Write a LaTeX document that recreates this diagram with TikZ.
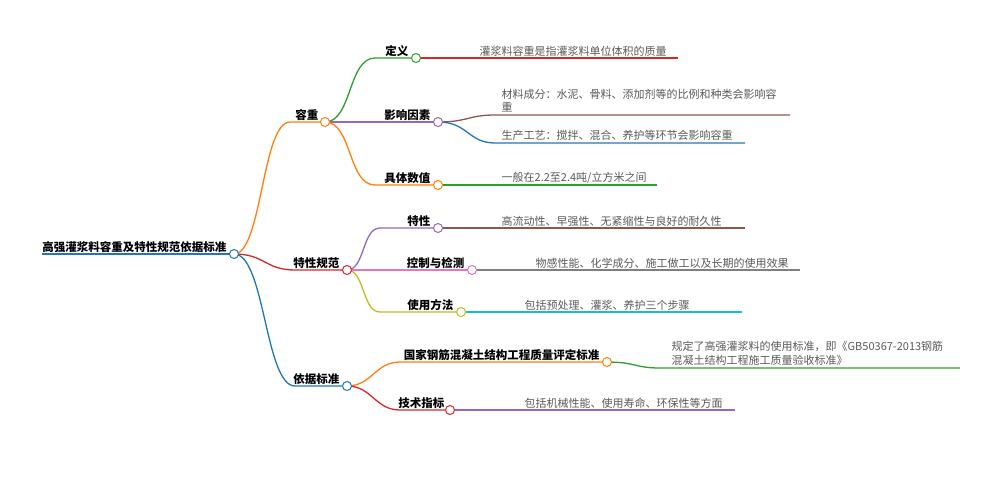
\documentclass[tikz,border=0pt]{standalone}
\usepackage{fontspec}
\setmainfont{Noto Sans CJK SC}
\begin{document}
\begin{tikzpicture}[x=1pt,y=-1pt,line width=1.3pt,
  dot/.style={circle,draw=#1,fill=white,inner sep=0pt,minimum size=9pt,line width=1pt},
  lab/.style={font=\fontsize{11.5}{13}\selectfont\bfseries,inner sep=1pt,anchor=south east},
  desc/.style={font=\fontsize{11}{13.5}\selectfont,text=black!65,inner sep=1pt,anchor=south west,align=left}]
\definecolor{cb}{HTML}{1F77B4}\definecolor{co}{HTML}{FF7F0E}\definecolor{cg}{HTML}{2CA02C}
\definecolor{cr}{HTML}{D62728}\definecolor{cp}{HTML}{9467BD}\definecolor{cn}{HTML}{8C564B}
\definecolor{ck}{HTML}{E377C2}\definecolor{cy}{HTML}{7F7F7F}\definecolor{cl}{HTML}{BCBD22}
\definecolor{cc}{HTML}{17BECF}
\useasboundingbox (0,0) rectangle (1000,499);
% coordinates
\coordinate (r0) at (42,254); \coordinate (r) at (234,254);
\coordinate (a0) at (290,122); \coordinate (a) at (325,122);
\coordinate (a10) at (375,58); \coordinate (a1) at (416,58);
\coordinate (a2) at (438,122);
\coordinate (a30) at (375,185); \coordinate (a3) at (438,185);
\coordinate (b0) at (295,270); \coordinate (b) at (347,270);
\coordinate (b10) at (380,228); \coordinate (b1) at (438,228);
\coordinate (b2) at (472,270);
\coordinate (b30) at (380,312); \coordinate (b3) at (461,312);
\coordinate (c0) at (295,386); \coordinate (c) at (347,386);
\coordinate (c10) at (400,362); \coordinate (c1) at (607,362);
\coordinate (c20) at (400,410); \coordinate (c2) at (450,410);
\coordinate (e1) at (678,58);
\coordinate (e20) at (495,115); \coordinate (e2) at (790,115);
\coordinate (e30) at (495,143); \coordinate (e3) at (745,143);
\coordinate (e4) at (657,185);
\coordinate (e5) at (745,228);
\coordinate (e6) at (800,270);
\coordinate (e7) at (742,312);
\coordinate (e80) at (660,368); \coordinate (e8) at (960,368);
\coordinate (e9) at (735,410);
% root
\draw[cb,line width=2pt] (r0) -- (r);
% level 1
\draw[co] (r) .. controls (262,254) and (262,122) .. (a0) -- (a);
\draw[cr] (r) .. controls (265,254) and (265,270) .. (b0) -- (b);
\draw[cb] (r) .. controls (265,254) and (265,386) .. (c0) -- (c);
% level 2
\draw[cg] (a) .. controls (352,122) and (348,58) .. (a10) -- (a1);
\draw[cp] (a) -- (a2);
\draw[co] (a) .. controls (352,122) and (348,185) .. (a30) -- (a3);
\draw[cp] (b) .. controls (365,270) and (362,228) .. (b10) -- (b1);
\draw[ck] (b) -- (b2);
\draw[cl] (b) .. controls (365,270) and (362,312) .. (b30) -- (b3);
\draw[co] (c) .. controls (372,386) and (375,362) .. (c10) -- (c1);
\draw[cr] (c) .. controls (372,386) and (375,410) .. (c20) -- (c2);
% level 3
\draw[cr] (a1) -- (e1);
\draw[cn] (a2) .. controls (468,122) and (468,115) .. (e20) -- (e2);
\draw[cb] (a2) .. controls (468,122) and (468,143) .. (e30) -- (e3);
\draw[cg] (a3) -- (e4);
\draw[cn] (b1) -- (e5);
\draw[cy] (b2) -- (e6);
\draw[cc] (b3) -- (e7);
\draw[cg] (c1) .. controls (635,362) and (635,368) .. (e80) -- (e8);
\draw[cp] (c2) -- (e9);
% dots
\node[dot=cb] (nr) at (r) {};
\node[dot=co] (na) at (a) {}; \node[dot=cr] (nb) at (b) {}; \node[dot=cb] (nc) at (c) {};
\node[dot=cg] (na1) at (a1) {}; \node[dot=cp] (na2) at (a2) {}; \node[dot=co] (na3) at (a3) {};
\node[dot=cp] (nb1) at (b1) {}; \node[dot=ck] (nb2) at (b2) {}; \node[dot=cl] (nb3) at (b3) {};
\node[dot=co] (nc1) at (c1) {}; \node[dot=cr] (nc2) at (c2) {};
% labels
\node[lab] (tr) at (228,254) {高强灌浆料容重及特性规范依据标准};
\node[lab] (ta) at (320,122) {容重};
\node[lab] (ta1) at (410,58) {定义};
\node[lab] (ta2) at (432,122) {影响因素};
\node[lab] (ta3) at (432,185) {具体数值};
\node[lab] (tb) at (341,270) {特性规范};
\node[lab] (tb1) at (432,228) {特性};
\node[lab] (tb2) at (466,270) {控制与检测};
\node[lab] (tb3) at (455,312) {使用方法};
\node[lab] (tc) at (341,386) {依据标准};
\node[lab] (tc1) at (601,362) {国家钢筋混凝土结构工程质量评定标准};
\node[lab] (tc2) at (446,410) {技术指标};
% descriptions
\node[desc] (d1) at (478,58) {灌浆料容重是指灌浆料单位体积的质量};
\node[desc] (d2) at (500,114) {材料成分：水泥、骨料、添加剂等的比例和种类会影响容\\重};
\node[desc] (d3) at (500,142) {生产工艺：搅拌、混合、养护等环节会影响容重};
\node[desc] (d4) at (500,185) {一般在2.2至2.4吨/立方米之间};
\node[desc] (d5) at (500,228) {高流动性、早强性、无紧缩性与良好的耐久性};
\node[desc] (d6) at (534,270) {物感性能、化学成分、施工做工以及长期的使用效果};
\node[desc] (d7) at (523,312) {包括预处理、灌浆、养护三个步骤};
\node[desc] (d8) at (670,367) {规定了高强灌浆料的使用标准，即《GB50367-2013钢筋\\混凝土结构工程施工质量验收标准》};
\node[desc] (d9) at (523,410) {包括机械性能、使用寿命、环保性等方面};
\end{tikzpicture}
\end{document}
